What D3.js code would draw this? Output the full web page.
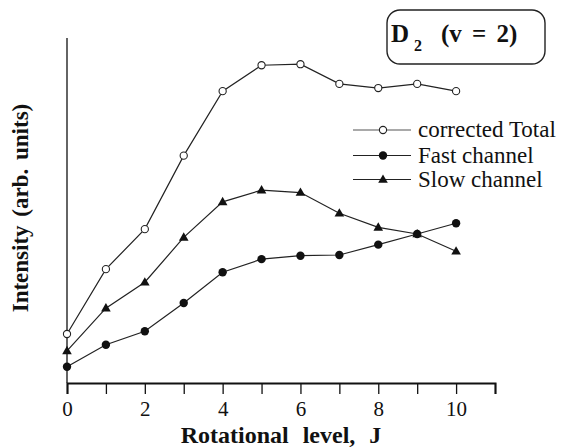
<!DOCTYPE html>
<html>
<head>
<meta charset="utf-8">
<script src="https://cdn.jsdelivr.net/npm/d3@7"></script>
<style>
body { margin: 0; background: #fff; }
text { font-family: "Liberation Serif", "Times New Roman", serif; fill: #111; }
</style>
</head>
<body>
<script>
var w = 571;
var h = 447;

// rotational level J
var levels = [0, 1, 2, 3, 4, 5, 6, 7, 8, 9, 10];
// intensities, arbitrary units
var totalVals = [14.2, 33.0, 44.6, 65.9, 84.6, 92.1, 92.4, 86.7, 85.5, 86.7, 84.6];
var fastVals  = [4.7, 11.1, 15.0, 23.2, 32.1, 35.9, 36.9, 37.1, 40.1, 43.2, 46.3];
var slowVals  = [9.3, 21.7, 29.2, 42.2, 52.5, 55.9, 55.2, 49.2, 45.1, 43.2, 38.2];
var xTicks = [0, 1, 2, 3, 4, 5, 6, 7, 8, 9, 10, 11];
var seriesNames = ["corrected Total", "Fast channel", "Slow channel"];

var svg = d3.select("body")
    .append("svg")
    .attr("width", w)
    .attr("height", h);

var x = d3.scaleLinear().domain([0, 11]).range([67, 495]);
var y = d3.scaleLinear().domain([0, 100]).range([383, 38]);

// x axis
var xAxis = d3.axisBottom(x)
    .tickValues(xTicks)
    .tickSize(11)
    .tickPadding(7)
    .tickFormat(function(d){
        return (d % 2 == 0 && d <= 10) ? d : "";
    });

var gx = svg.append("g")
    .attr("transform", "translate(0," + y(0) + ")")
    .call(xAxis);
gx.select(".domain").attr("stroke", "#111").attr("stroke-width", 2);
gx.selectAll(".tick line").attr("stroke", "#111").attr("stroke-width", 1.3);
gx.selectAll(".tick text")
    .attr("font-size", 21)
    .attr("font-family", "Liberation Serif")
    .attr("fill", "#111");

// y axis, a plain line
svg.append("line")
    .attr("x1", x(0)).attr("x2", x(0))
    .attr("y1", y(100)).attr("y2", y(0))
    .attr("stroke", "#111")
    .attr("stroke-width", 1.3);

// axis titles
svg.append("text")
    .attr("x", 281)
    .attr("y", 443)
    .attr("text-anchor", "middle")
    .attr("font-size", 24)
    .attr("font-weight", "bold")
    .style("word-spacing", "8px")
    .text("Rotational level, J");

svg.append("text")
    .attr("transform", "translate(28,208) rotate(-90)")
    .attr("text-anchor", "middle")
    .attr("font-size", 23)
    .attr("font-weight", "bold")
    .style("word-spacing", "3px")
    .text("Intensity (arb. units)");

var line = d3.line()
    .x(function(d, i){ return x(levels[i]); })
    .y(function(d){ return y(d); });

var allSeries = [totalVals, fastVals, slowVals];

allSeries.forEach(function(vals){
    svg.append("path")
        .datum(vals)
        .attr("d", line)
        .attr("fill", "none")
        .attr("stroke", "#222")
        .attr("stroke-width", 1.2);
});

var tri = d3.symbol().type(d3.symbolTriangle).size(40);

function drawMarker(g, kind, cx, cy){
    if(kind == 0){
        g.append("circle")
            .attr("cx", cx).attr("cy", cy).attr("r", 3.6)
            .attr("fill", "#fff").attr("stroke", "#222").attr("stroke-width", 1.1);
    } else if(kind == 1){
        g.append("circle")
            .attr("cx", cx).attr("cy", cy).attr("r", 4.2)
            .attr("fill", "#111");
    } else {
        g.append("path")
            .attr("d", tri)
            .attr("transform", "translate(" + cx + "," + (cy + 0.5) + ")")
            .attr("fill", "#111");
    }
}

var marks = svg.append("g");
allSeries.forEach(function(vals, k){
    vals.forEach(function(v, i){
        drawMarker(marks, k, x(levels[i]), y(v));
    });
});

// legend
var legend = svg.append("g");
var rowY = [130, 155.5, 179.5];
seriesNames.forEach(function(name, k){
    legend.append("line")
        .attr("x1", 353).attr("x2", 411)
        .attr("y1", rowY[k]).attr("y2", rowY[k])
        .attr("stroke", k == 0 ? "#555" : "#222")
        .attr("stroke-width", 1.2);
    drawMarker(legend, k, 383, rowY[k]);
    legend.append("text")
        .attr("x", 418)
        .attr("y", rowY[k] + 7)
        .attr("font-size", 23)
        .text(name);
});

// label box
svg.append("rect")
    .attr("x", 387).attr("y", 10)
    .attr("width", 158).attr("height", 54)
    .attr("rx", 13).attr("ry", 13)
    .attr("fill", "none")
    .attr("stroke", "#222")
    .attr("stroke-width", 1.4);

var lab = svg.append("text")
    .attr("font-weight", "bold")
    .attr("font-size", 25);
lab.append("tspan").attr("x", 391).attr("y", 42).text("D");
lab.append("tspan").attr("x", 414).attr("y", 51).attr("font-size", 16).text("2");
lab.append("tspan").attr("x", 441).attr("y", 42).style("word-spacing", "4px").text("(v = 2)");
</script>
</body>
</html>
